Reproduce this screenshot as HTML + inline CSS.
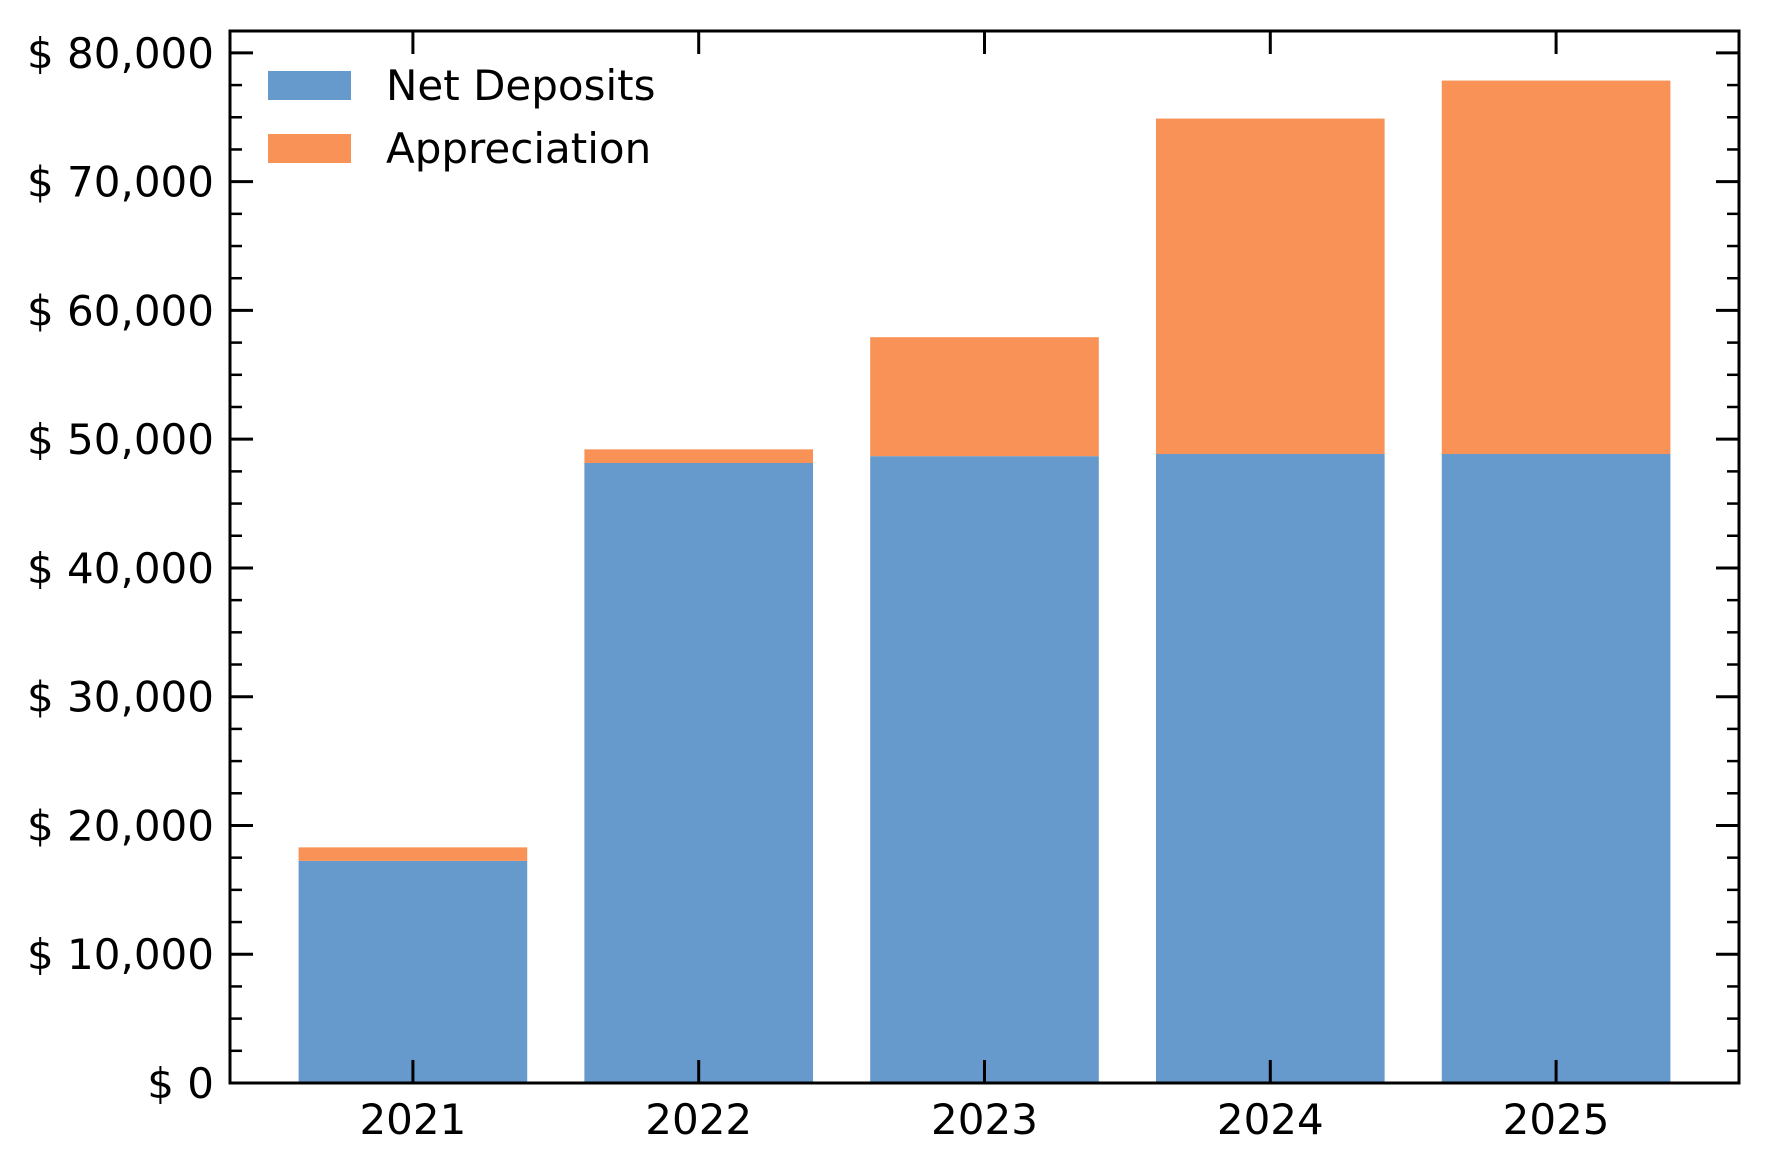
<!DOCTYPE html>
<html><head><meta charset="utf-8"><style>
html,body{margin:0;padding:0;background:#fff;}
svg text{font-family:"DejaVu Sans","Liberation Sans",sans-serif;fill:#000;}
</style></head><body>
<svg id="chart" width="1771" height="1170" viewBox="0 0 1771 1170" xmlns="http://www.w3.org/2000/svg"></svg>
<script>
const categories = ["2021","2022","2023","2024","2025"];
const netDeposits = [17250, 48150, 48680, 48850, 48850];
const appreciation = [1050, 1060, 9240, 26050, 29000];
const yTicks = [0,10000,20000,30000,40000,50000,60000,70000,80000];
const yTickLabels = ["$ 0","$ 10,000","$ 20,000","$ 30,000","$ 40,000","$ 50,000","$ 60,000","$ 70,000","$ 80,000"];

const svg = document.getElementById('chart');
const NS = 'http://www.w3.org/2000/svg';
const L=230, R=1739, T=31, B=1083;
const xMin=-0.64, xMax=categories.length-1+0.64;
const yMin=0, yMax=81700;
const xs = v => L + (v - xMin)/(xMax - xMin)*(R-L);
const ys = v => B - (v - yMin)/(yMax - yMin)*(B-T);
function mk(tag, attrs){const e=document.createElementNS(NS,tag);for(const k in attrs)e.setAttribute(k,attrs[k]);svg.appendChild(e);return e;}

const bw = 0.8;
categories.forEach((c,i)=>{
  const x0 = xs(i-bw/2), x1 = xs(i+bw/2);
  const b = mk('rect',{x:x0,y:ys(netDeposits[i]),width:x1-x0,height:ys(0)-ys(netDeposits[i]),fill:'#6699cc'});
  
  
  const top = netDeposits[i]+appreciation[i];
  const a = mk('rect',{x:x0,y:ys(top),width:x1-x0,height:ys(netDeposits[i])-ys(top),fill:'#f89256'});
  
  
});

for(let v=0; v<=yMax; v+=2500){
  if(v%10000===0) continue;
  const y=ys(v);
  mk('line',{x1:L,x2:L+12,y1:y,y2:y,stroke:'#000','stroke-width':2.5});
  mk('line',{x1:R,x2:R-12,y1:y,y2:y,stroke:'#000','stroke-width':2.5});
}
yTicks.forEach((v,i)=>{
  const y=ys(v);
  mk('line',{x1:L,x2:L+23,y1:y,y2:y,stroke:'#000','stroke-width':3});
  mk('line',{x1:R,x2:R-23,y1:y,y2:y,stroke:'#000','stroke-width':3});
  const t=mk('text',{x:214,y:y+15,'text-anchor':'end','font-size':42});
  t.textContent=yTickLabels[i];
  
  
});
categories.forEach((c,i)=>{
  const x=xs(i);
  mk('line',{x1:x,x2:x,y1:B,y2:B-23,stroke:'#000','stroke-width':3});
  mk('line',{x1:x,x2:x,y1:T,y2:T+23,stroke:'#000','stroke-width':3});
  const t=mk('text',{x:x,y:1134,'text-anchor':'middle','font-size':42});
  t.textContent=c;
  
  
});
const frame = mk('rect',{x:L,y:T,width:R-L,height:B-T,fill:'none',stroke:'#000','stroke-width':3});



const l1=mk('rect',{x:268,y:71,width:83,height:29,fill:'#6699cc'});


const t1=mk('text',{x:386,y:100,'font-size':42});t1.textContent='Net Deposits';


const l2=mk('rect',{x:268,y:134,width:83,height:29,fill:'#f89256'});


const t2=mk('text',{x:386,y:163,'font-size':42});t2.textContent='Appreciation';


</script>
</body></html>
